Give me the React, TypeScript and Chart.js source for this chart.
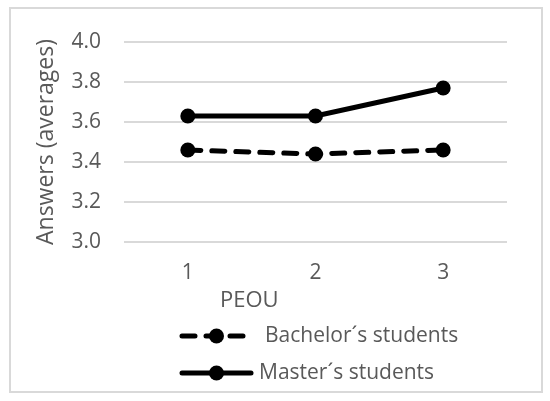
import React, { useEffect, useRef } from "react";
import { Chart, registerables } from "chart.js";

Chart.register(...registerables);

const categories = ["1", "2", "3"];
const bachelorValues = [3.46, 3.44, 3.46];
const masterValues = [3.63, 3.63, 3.77];
const seriesNames = ["Bachelor´s students", "Master´s students"];
const yTicks = [3.0, 3.2, 3.4, 3.6, 3.8, 4.0];
const xAxisTitle = "PEOU";
const yAxisTitle = "Answers (averages)";

const FONT = "'Open Sans', sans-serif";
const TEXT = "#595959";
const GRID = "#d9d9d9";
const TICK_FS = 21;
const LEGEND_FS = 21;
const XTITLE_FS = 22;
const YTITLE_FS = 23;

const framePlugin = {
  id: "frameLegend",
  beforeDraw(chart: any) {
    const ctx = chart.ctx;
    ctx.save();
    ctx.fillStyle = "#ffffff";
    ctx.fillRect(0, 0, chart.width, chart.height);
    ctx.strokeStyle = GRID;
    ctx.lineWidth = 2;
    ctx.strokeRect(10, 8, 532, 384);
    ctx.restore();
  },
  afterDraw(chart: any) {
    const { ctx, chartArea } = chart;
    ctx.save();
    ctx.font = `${XTITLE_FS}px ${FONT}`;
    ctx.fillStyle = TEXT;
    ctx.textBaseline = "middle";
    ctx.textAlign = "left";
    ctx.fillText(xAxisTitle, chartArea.left + 96, chartArea.bottom + 59);
    ctx.font = `${LEGEND_FS}px ${FONT}`;
    const textX = [265, 259];
    chart.data.datasets.forEach((ds: any, i: number) => {
      const y = chartArea.bottom + 94 + i * 37;
      const x0 = chartArea.left + 58;
      const x1 = chartArea.left + 127;
      ctx.strokeStyle = ds.borderColor;
      ctx.lineWidth = ds.borderWidth;
      ctx.lineCap = "round";
      ctx.setLineDash(ds.borderDash || []);
      ctx.beginPath();
      ctx.moveTo(x0, y);
      ctx.lineTo(x1, y);
      ctx.stroke();
      ctx.setLineDash([]);
      ctx.fillStyle = ds.pointBackgroundColor;
      ctx.beginPath();
      ctx.arc((x0 + x1) / 2, y, ds.pointRadius, 0, Math.PI * 2);
      ctx.fill();
      ctx.fillStyle = TEXT;
      ctx.fillText(ds.label, textX[i], y);
    });
    ctx.restore();
  },
};

export default function App() {
  const ref = useRef<HTMLCanvasElement>(null);
  useEffect(() => {
    if (!ref.current) return;
    const chart = new Chart(ref.current, {
      type: "line",
      data: {
        labels: categories,
        datasets: [
          {
            label: seriesNames[0],
            data: bachelorValues,
            borderColor: "#000000",
            backgroundColor: "#000000",
            borderWidth: 5,
            borderDash: [13, 11],
            borderCapStyle: "round",
            pointRadius: 7.5,
            pointBorderWidth: 0,
            pointBackgroundColor: "#000000",
            tension: 0,
          },
          {
            label: seriesNames[1],
            data: masterValues,
            borderColor: "#000000",
            backgroundColor: "#000000",
            borderWidth: 5,
            borderCapStyle: "round",
            pointRadius: 7.5,
            pointBorderWidth: 0,
            pointBackgroundColor: "#000000",
            tension: 0,
          },
        ],
      },
      options: {
        animation: false,
        responsive: false,
        layout: { padding: { left: 25, right: 43, top: 42, bottom: 109 } },
        plugins: {
          legend: { display: false },
          tooltip: { enabled: false },
        },
        scales: {
          x: {
            offset: true,
            grid: { display: false },
            border: { display: false },
            ticks: { color: TEXT, font: { family: FONT, size: TICK_FS }, padding: 10 },
            afterFit: (s: any) => {
              s.height = 50;
            },
          },
          y: {
            min: 3.0,
            max: 4.0,
            afterBuildTicks: (s: any) => {
              s.ticks = yTicks.map((v) => ({ value: v }));
            },
            grid: { color: GRID, lineWidth: 2, drawTicks: false },
            border: { display: false },
            ticks: {
              color: TEXT,
              font: { family: FONT, size: TICK_FS },
              padding: 23,
              callback: (v: any) => Number(v).toFixed(1),
            },
            title: {
              display: true,
              text: yAxisTitle,
              color: TEXT,
              font: { family: FONT, size: YTITLE_FS },
              padding: { top: 8, bottom: 8 },
            },
            afterFit: (s: any) => {
              s.width = 99;
            },
          },
        },
      },
      plugins: [framePlugin],
    });
    return () => chart.destroy();
  }, []);
  return (
    <div style={{ position: "fixed", left: 0, top: 0, width: 550, height: 401, background: "#fff" }}>
      <canvas ref={ref} width={550} height={401} style={{ display: "block" }} />
    </div>
  );
}
